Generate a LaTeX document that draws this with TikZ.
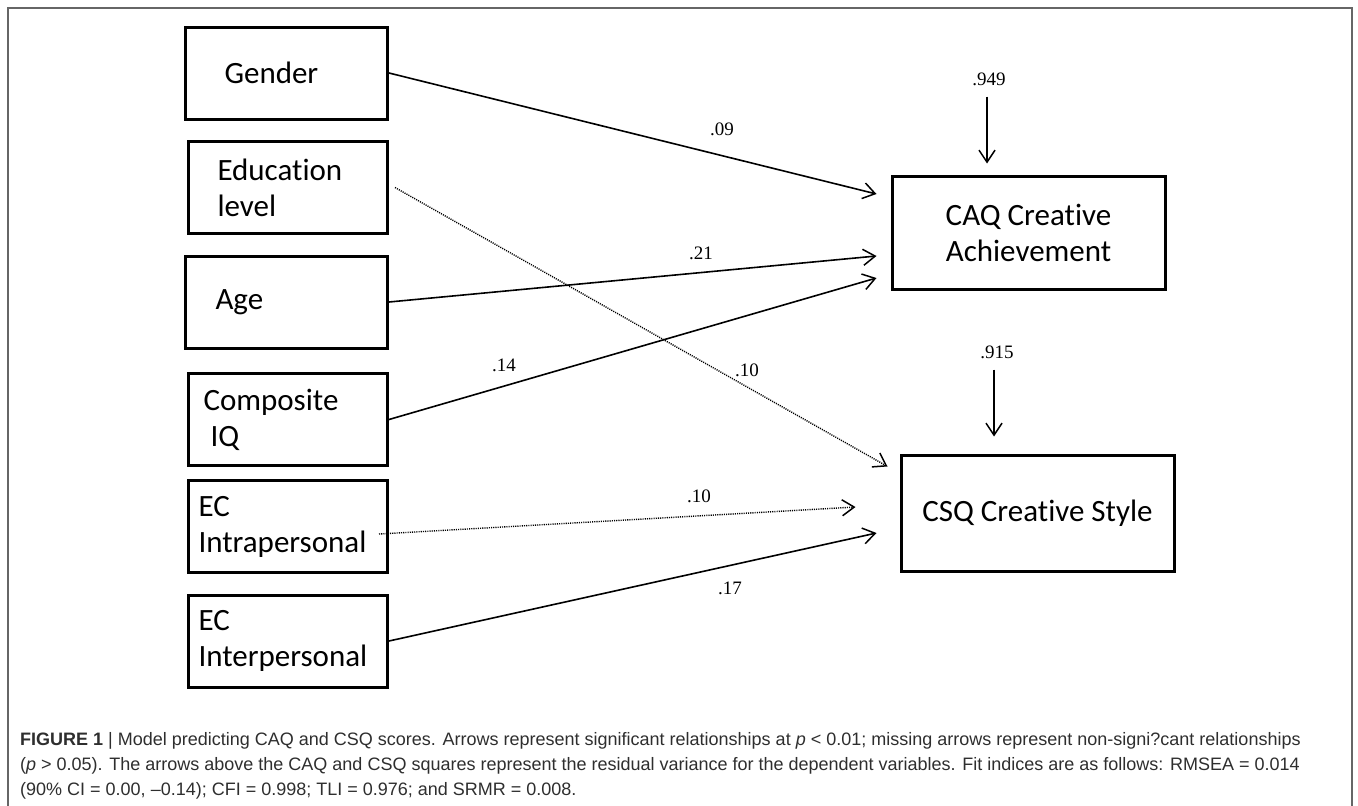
\documentclass[tikz,border=0pt]{standalone}
\usepackage{fontspec}
\usetikzlibrary{arrows.meta}

\newfontfamily\boxfont[Ligatures=NoCommon]{Carlito}
\newfontfamily\coeffont{Liberation Serif}
\newfontfamily\capfont{Liberation Sans}
\definecolor{framegray}{HTML}{666666}
\definecolor{capgray}{HTML}{2E2E2E}

\tikzset{
  varbox/.style={draw, line width=3pt, minimum height=92pt, align=left,
    anchor=west, inner ysep=0pt, font=\boxfont\fontsize{31}{36}\selectfont},
  outbox/.style={draw, line width=3pt, align=center, inner sep=0pt,
    minimum width=273pt, font=\boxfont\fontsize{31}{36}\selectfont},
  coef/.style={inner sep=0pt, font=\coeffont\fontsize{19}{21}\selectfont},
  sig/.style={line width=1.6pt, -{Straight Barb[length=12pt, width=16pt, line width=1.5pt]}},
  nonsig/.style={sig, line width=1.4pt, dash pattern=on 1.1pt off 1.1pt},
  capline/.style={anchor=base west, inner sep=0pt, text=capgray,
    font=\capfont\fontsize{18}{22}\selectfont}
}

\begin{document}
\begin{tikzpicture}[x=1pt, y=-1pt]
 \useasboundingbox (0,0) rectangle (1358,806);
 \draw[framegray, line width=1.4pt] (8,806) -- (8,8) -- (1352,8) -- (1352,806);

 % predictors
 \node[varbox, text width=124pt, inner xsep=39pt] (gender) at (184,73) {Gender};
 \node[varbox, text width=141pt, inner xsep=29pt] (edu) at (187,187.5) {Education\\level};
 \node[varbox, text width=142pt, inner xsep=30pt] (age) at (184,302) {Age};
 \node[varbox, text width=169pt, inner xsep=15pt] (iq) at (187,419.5) {Composite\\\hspace*{7pt}IQ};
 \node[varbox, text width=179pt, inner xsep=10pt] (intra) at (187,526.5) {EC\\Intrapersonal};
 \node[varbox, text width=179pt, inner xsep=10pt] (inter) at (187,641) {EC\\Interpersonal};

 % outcomes
 \node[outbox, minimum height=113pt] (caq) at (1028.5,232.5) {CAQ Creative\\Achievement};
 \node[outbox, minimum height=116pt] (csq) at (1037.5,513) {CSQ Creative Style};

 % arrow ends
 \coordinate (caqA) at ([shift={(-14,-38.5)}]caq.west);
 \coordinate (caqB) at ([shift={(-14,23.5)}]caq.west);
 \coordinate (caqC) at ([shift={(-14,45.5)}]caq.west);
 \coordinate (csqA) at ([shift={(-12,13)}]csq.north west);
 \coordinate (csqB) at ([shift={(-44,-6)}]csq.west);
 \coordinate (csqC) at ([shift={(-23,20)}]csq.west);

 \draw[sig] (gender.east) -- (caqA);
 \draw[sig] (age.east) -- (caqB);
 \draw[sig] (iq.east) -- (caqC);
 \draw[nonsig] ([xshift=6pt]edu.east) -- (csqA);
 \draw[nonsig] ([shift={(-10,7.5)}]intra.east) -- (csqB);
 \draw[sig] (inter.east) -- (csqC);

 % path coefficients
 \node[coef] (b09) at (722,129) {.09};
 \node[coef] (b21) at (701,253) {.21};
 \node[coef] (b14) at (504,365) {.14};
 \node[coef] (b10e) at (747,370) {.10};
 \node[coef] (b10i) at (699,496) {.10};
 \node[coef] (b17) at (730,588) {.17};

 % residual variances
 \node[coef] (r949) at (989,79) {.949};
 \node[coef] (r915) at (997,352) {.915};
 \draw[sig, line width=1.3pt] ([shift={(-2,11)}]r949.south) -- ([shift={(-2,-11)}]r949.south |- caq.north);
 \draw[sig, line width=1.3pt] ([shift={(-3,11)}]r915.south) -- ([shift={(-3,-17)}]r915.south |- csq.north);

 % caption
 \node[capline] (cap1) at (20,745) {\textbf{FIGURE 1} | Model predicting CAQ and CSQ scores. Arrows represent significant relationships at \textit{p} < 0.01; missing arrows represent non-signi?cant relationships};
 \node[capline] (cap2) at (20,770) {(\textit{p} > 0.05). The arrows above the CAQ and CSQ squares represent the residual variance for the dependent variables. Fit indices are as follows: RMSEA = 0.014};
 \node[capline] (cap3) at (20,795) {(90\% CI = 0.00, –0.14); CFI = 0.998; TLI = 0.976; and SRMR = 0.008.};
\end{tikzpicture}
\end{document}
